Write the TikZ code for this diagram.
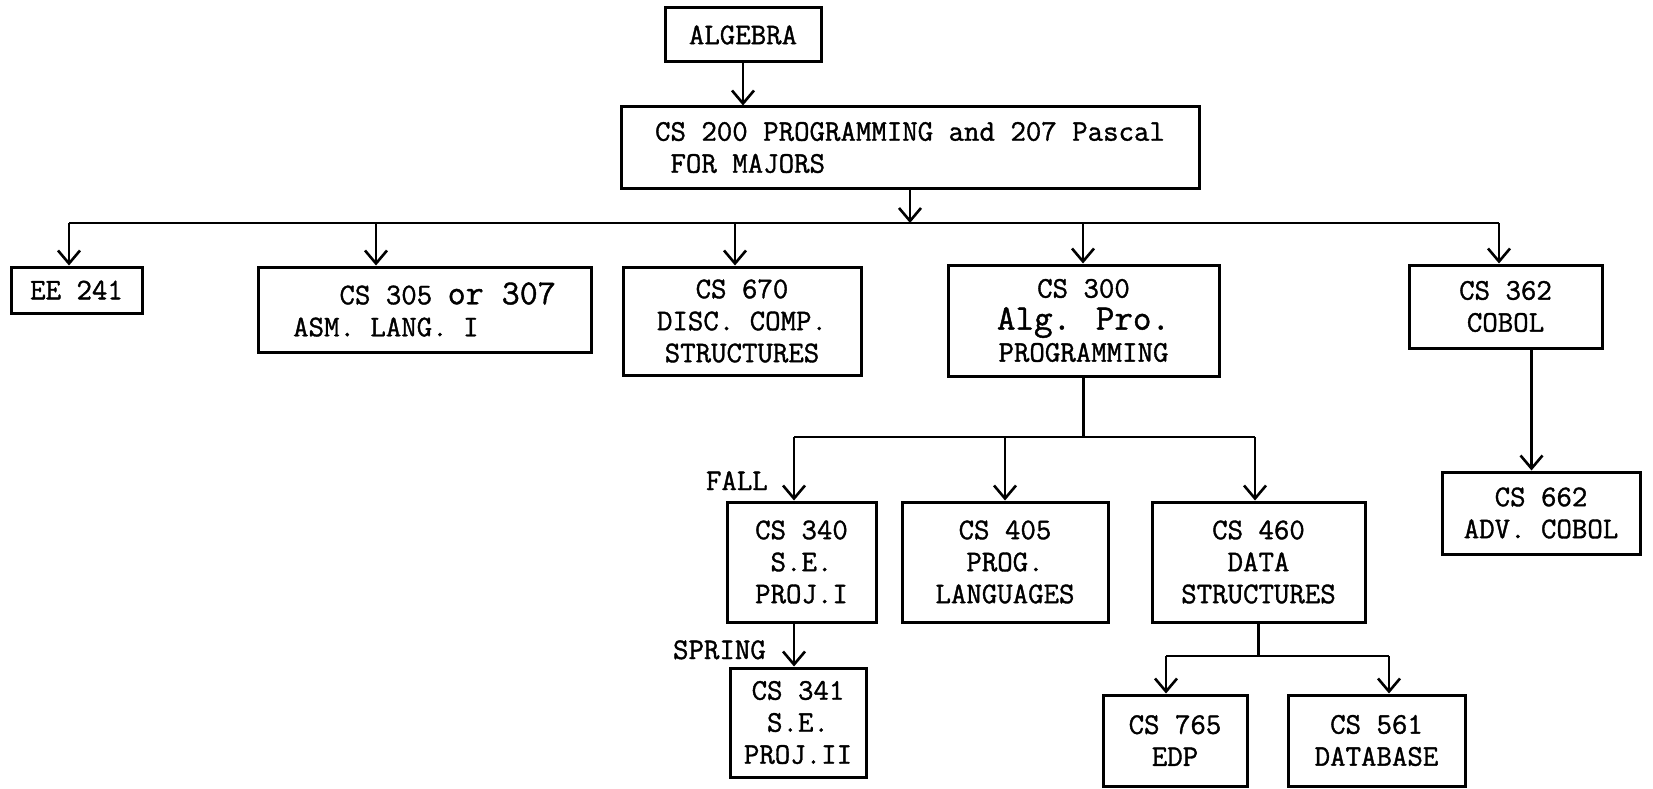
\documentclass[tikz,border=0pt]{standalone}
\usepackage{fontspec}
\newfontfamily\typer{Latin Modern Mono}[FakeBold=1.2]
\usetikzlibrary{arrows.meta}

\begin{document}
\begin{tikzpicture}[x=1pt,y=-1pt,
    course/.style={draw, line width=3pt, inner sep=0pt, align=center,
      font=\typer\fontsize{30}{32}\selectfont},
    link/.style={line width=2.6pt},
    drop/.style={link, -{Straight Barb[length=13pt,width=22pt]}},
    note/.style={inner sep=0pt, font=\typer\fontsize{30}{32}\selectfont}]
  \useasboundingbox (0,0) rectangle (1653,789);

  \node[course, minimum width=156pt, minimum height=54pt] (alg) at (743,35) {ALGEBRA};
  \node[course, align=left, minimum width=578pt, minimum height=81pt] (cs200) at (910,147.5)
    {CS 200 PROGRAMMING and 207 Pascal\\~FOR MAJORS};

  \node[course, minimum width=131pt, minimum height=46pt] (ee241) at (76.5,290) {EE 241};
  \node[course, align=left, minimum width=333pt, minimum height=85pt] (cs305) at (424.5,309.5)
    {\hphantom{xxx}CS 305 {\fontsize{35}{32}\selectfont or 307}\\ASM. LANG. I};
  \node[course, minimum width=238pt, minimum height=108pt] (cs670) at (742,321)
    {CS 670\\DISC. COMP.\\STRUCTURES};
  \node[course, minimum width=271pt, minimum height=111pt] (cs300) at (1083.5,320.5)
    {CS 300\\{\fontsize{36}{32}\selectfont Alg. Pro.}\\PROGRAMMING};
  \node[course, minimum width=193pt, minimum height=83pt] (cs362) at (1505.5,306.5)
    {CS 362\\COBOL};
  \node[course, minimum width=198pt, minimum height=82pt] (cs662) at (1541,513)
    {CS 662\\ADV. COBOL};

  \node[course, minimum width=149pt, minimum height=120pt] (cs340) at (801.5,562)
    {CS 340\\S.E.\\PROJ.I};
  \node[course, minimum width=206pt, minimum height=120pt] (cs405) at (1005,562)
    {CS 405\\PROG.\\LANGUAGES};
  \node[course, minimum width=213pt, minimum height=120pt] (cs460) at (1258.5,562)
    {CS 460\\DATA\\STRUCTURES};
  \node[course, minimum width=136pt, minimum height=109pt] (cs341) at (798,722.5)
    {CS 341\\S.E.\\PROJ.II};
  \node[course, minimum width=144pt, minimum height=91pt] (cs765) at (1175,740.5)
    {CS 765\\EDP};
  \node[course, minimum width=177pt, minimum height=91pt] (cs561) at (1376.5,740.5)
    {CS 561\\DATABASE};

  \node[note, anchor=base east] (fall) at (768,490) {FALL};
  \node[note, anchor=base east] (spring) at (766,659) {SPRING};

  \draw[drop] (alg) -- (alg |- cs200.north);

  \coordinate (busL) at (69,223);
  \coordinate (busR) at (1499,223);
  \draw[link] (busL) -- (busR);
  \draw[drop] (cs200.south) -- (cs200.south |- busL);
  \foreach \name/\x in {ee241/69,cs305/376,cs670/735,cs300/1083,cs362/1499}{
    \coordinate (t-\name) at (\x,223);
    \draw[drop] (t-\name) -- (t-\name |- \name.north);
  }

  \coordinate (subL) at (794,437);
  \coordinate (subR) at (1255,437);
  \draw[link] (cs300.south) -- (cs300.south |- subL);
  \draw[link] (subL) -- (subR);
  \draw[drop] (subL) -- (subL |- cs340.north);
  \draw[drop] (cs405.north |- subL) -- (cs405.north);
  \draw[drop] (subR) -- (subR |- cs460.north);
  \draw[drop] (subL |- cs340.south) -- (subL |- cs341.north);

  \draw[drop] ([xshift=26pt]cs362.south) -- ([xshift=26pt]cs362.south |- cs662.north);

  \coordinate (dbL) at (1166,656);
  \coordinate (dbR) at (1389,656);
  \draw[link] (cs460.south) -- (cs460.south |- dbL);
  \draw[link] (dbL) -- (dbR);
  \draw[drop] (dbL) -- (dbL |- cs765.north);
  \draw[drop] (dbR) -- (dbR |- cs561.north);
\end{tikzpicture}
\end{document}
